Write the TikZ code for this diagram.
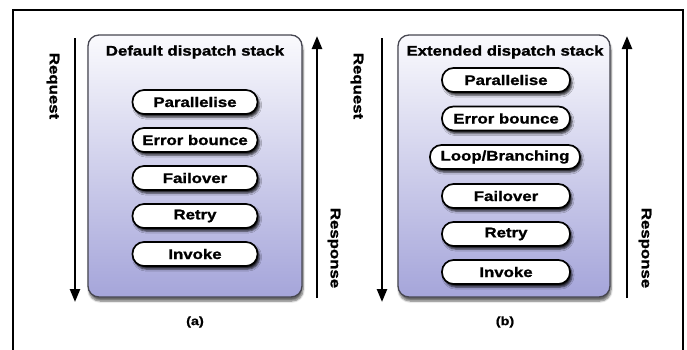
\documentclass[tikz,border=0pt]{standalone}
\usepackage{fontspec}
\setmainfont{Liberation Sans}
\newfontfamily\labelfont[FakeStretch=1.2,FakeBold=1.2]{Liberation Sans}
\usetikzlibrary{arrows.meta,shadows.blur}

\definecolor{stacktop}{RGB}{250,250,253}
\definecolor{stackbottom}{RGB}{165,165,218}
\definecolor{stackedge}{RGB}{70,70,80}

\tikzset{
  stackbox/.style={draw=stackedge, line width=1.3pt, rounded corners=11pt,
    top color=stacktop, bottom color=stackbottom,
    blur shadow={shadow xshift=1pt, shadow yshift=-4pt, shadow blur steps=6, shadow opacity=60},
    inner sep=0pt},
  layer/.style={draw=black, line width=1.7pt, fill=white, rounded corners=11.5pt,
    minimum height=24pt, inner sep=0pt,
    blur shadow={shadow xshift=2pt, shadow yshift=-3pt, shadow blur steps=4, shadow opacity=85},
    font=\labelfont\bfseries\fontsize{14}{16}\selectfont},
  heading/.style={font=\labelfont\bfseries\fontsize{14}{16}\selectfont, inner sep=0pt},
  caption/.style={font=\labelfont\bfseries\fontsize{12}{14}\selectfont, inner sep=0pt},
  flow/.style={line width=2.4pt, -{Triangle[length=13pt,width=10pt]}},
  side/.style={font=\labelfont\bfseries\fontsize{14}{16}\selectfont, rotate=-90, inner sep=0pt},
}

\begin{document}
\begin{tikzpicture}[x=1pt,y=-1pt]
  \useasboundingbox (0,0) rectangle (687,349);
  % outer frame (open at the bottom)
  \draw[line width=1.5pt] (13,360) -- (13,10) -- (683,10) -- (683,360);

  % ---------- (a) default stack ----------
  \node[stackbox, minimum width=214pt, minimum height=262pt] (boxa) at (195,166) {};
  \node[heading] (titlea) at (195,52) {Default dispatch stack};
  \node[layer, minimum width=125pt] (a1) at (195,102) {Parallelise};
  \node[layer, minimum width=125pt] (a2) at (195,140) {Error bounce};
  \node[layer, minimum width=125pt] (a3) at (195,178) {Failover};
  \node[layer, minimum width=125pt] (a4) at (195,216) {Retry};
  \node[layer, minimum width=125pt] (a5) at (195,254) {Invoke};
  \node[caption] (capa) at (195,322) {(a)};

  \coordinate (reqa-s) at (75,38);
  \coordinate (reqa-e) at (75,302);
  \coordinate (resa-s) at (317,298);
  \coordinate (resa-e) at (317,36);
  \draw[flow] (reqa-s) -- (reqa-e);
  \draw[flow] (resa-s) -- (resa-e);
  \node[side] (reqla) at (53,86) {Request};
  \node[side] (resla) at (334,248) {Response};

  % ---------- (b) extended stack ----------
  \node[stackbox, minimum width=212pt, minimum height=262pt] (boxb) at (504,166) {};
  \node[heading] (titleb) at (505,52) {Extended dispatch stack};
  \node[layer, minimum width=128pt] (b1) at (506,80) {Parallelise};
  \node[layer, minimum width=128pt] (b2) at (506,118.5) {Error bounce};
  \node[layer, minimum width=150pt] (b3) at (505,157) {Loop/Branching};
  \node[layer, minimum width=128pt] (b4) at (506,196) {Failover};
  \node[layer, minimum width=128pt] (b5) at (506,234) {Retry};
  \node[layer, minimum width=128pt] (b6) at (506,272) {Invoke};
  \node[caption] (capb) at (505,322) {(b)};

  \coordinate (reqb-s) at (382,38);
  \coordinate (reqb-e) at (382,302);
  \coordinate (resb-s) at (627,298);
  \coordinate (resb-e) at (627,36);
  \draw[flow] (reqb-s) -- (reqb-e);
  \draw[flow] (resb-s) -- (resb-e);
  \node[side] (reqlb) at (357,86) {Request};
  \node[side] (reslb) at (645,248) {Response};
\end{tikzpicture}
\end{document}
